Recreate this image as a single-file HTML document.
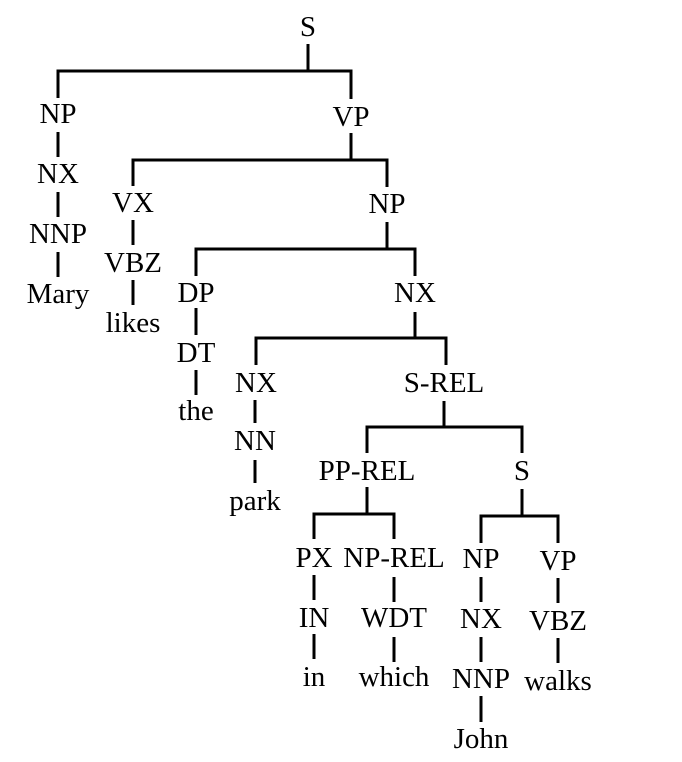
<!DOCTYPE html>
<html><head><meta charset="utf-8"><style>
html,body{margin:0;padding:0;background:#fff;}
svg{display:block;}
text{font-family:"Liberation Serif",serif;font-size:29px;fill:#000;text-anchor:middle;}
line,polyline{stroke:#000;stroke-width:3;fill:none;}
</style></head><body>
<svg width="682" height="762" viewBox="0 0 682 762" xmlns="http://www.w3.org/2000/svg">
<!-- S root -->
<text x="308" y="36">S</text>
<line x1="308" y1="44" x2="308" y2="71"/>
<polyline points="58,98 58,71 351,71 351,99"/>
<text x="58" y="123">NP</text>
<text x="351" y="126">VP</text>
<!-- NP left chain -->
<line x1="58" y1="132" x2="58" y2="157"/>
<text x="58" y="183">NX</text>
<line x1="58" y1="192" x2="58" y2="217"/>
<text x="58" y="243">NNP</text>
<line x1="58" y1="252" x2="58" y2="277"/>
<text x="58" y="303">Mary</text>
<!-- VP -->
<line x1="351" y1="133" x2="351" y2="160"/>
<polyline points="133,186 133,160 387,160 387,187"/>
<text x="133" y="212">VX</text>
<text x="387" y="213">NP</text>
<line x1="133" y1="220" x2="133" y2="245"/>
<text x="133" y="272">VBZ</text>
<line x1="133" y1="280" x2="133" y2="305"/>
<text x="133" y="332">likes</text>
<!-- NP -->
<line x1="387" y1="222" x2="387" y2="249"/>
<polyline points="196,276 196,249 415,249 415,276"/>
<text x="196" y="302">DP</text>
<text x="415" y="302">NX</text>
<line x1="196" y1="308" x2="196" y2="335"/>
<text x="196" y="362">DT</text>
<line x1="196" y1="370" x2="196" y2="395"/>
<text x="196" y="420">the</text>
<!-- NX -->
<line x1="415" y1="312" x2="415" y2="338"/>
<polyline points="256,365 256,338 446,338 446,365"/>
<text x="256" y="392">NX</text>
<text x="444" y="392">S-REL</text>
<line x1="255" y1="400" x2="255" y2="423"/>
<text x="255" y="450">NN</text>
<line x1="255" y1="460" x2="255" y2="483"/>
<text x="255" y="510">park</text>
<!-- S-REL -->
<line x1="444" y1="401" x2="444" y2="427"/>
<polyline points="367,453 367,427 522,427 522,453"/>
<text x="367" y="480">PP-REL</text>
<text x="522" y="480">S</text>
<!-- PP-REL -->
<line x1="367" y1="487" x2="367" y2="514"/>
<polyline points="314,539 314,514 394,514 394,539"/>
<text x="314" y="567">PX</text>
<text x="394" y="567">NP-REL</text>
<line x1="314" y1="575" x2="314" y2="600"/>
<text x="314" y="627">IN</text>
<line x1="314" y1="634" x2="314" y2="659"/>
<text x="314" y="686">in</text>
<line x1="394" y1="577" x2="394" y2="602"/>
<text x="394" y="627">WDT</text>
<line x1="394" y1="637" x2="394" y2="662"/>
<text x="394" y="686">which</text>
<!-- S -->
<line x1="522" y1="489" x2="522" y2="516"/>
<polyline points="481,543 481,516 558,516 558,543"/>
<text x="481" y="568">NP</text>
<text x="558" y="570">VP</text>
<line x1="481" y1="577" x2="481" y2="602"/>
<text x="481" y="628">NX</text>
<line x1="481" y1="637" x2="481" y2="662"/>
<text x="481" y="688">NNP</text>
<line x1="481" y1="696" x2="481" y2="722"/>
<text x="481" y="748">John</text>
<line x1="558" y1="578" x2="558" y2="603"/>
<text x="558" y="630">VBZ</text>
<line x1="558" y1="638" x2="558" y2="663"/>
<text x="558" y="690">walks</text>
</svg>
</body></html>
